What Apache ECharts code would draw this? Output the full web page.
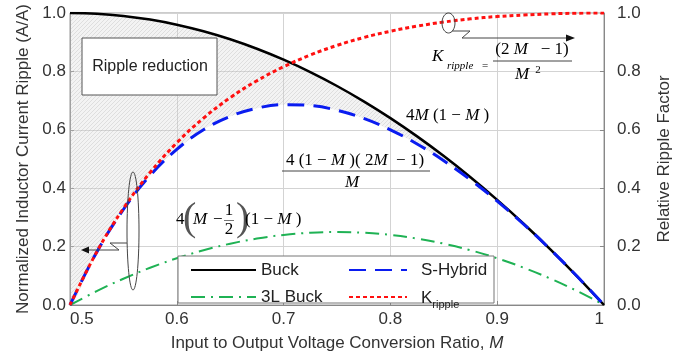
<!DOCTYPE html>
<html>
<head>
<meta charset="utf-8">
<script src="https://cdn.jsdelivr.net/npm/echarts@6/dist/echarts.min.js"></script>
<style>
  html, body { margin: 0; padding: 0; background: #fff; }
  #chart { width: 696px; height: 358px; }
</style>
</head>
<body>
<div id="chart"></div>
<script>
// Conversion ratio M (x axis samples)
const ratioM = [0.5, 0.525, 0.55, 0.575, 0.6, 0.625, 0.65, 0.675, 0.7, 0.725, 0.75,
                0.775, 0.8, 0.825, 0.85, 0.875, 0.9, 0.925, 0.95, 0.975, 1.0];
// Normalized inductor current ripple, conventional buck
const buck = [1.000, 0.9975, 0.990, 0.9775, 0.960, 0.9375, 0.910, 0.8775, 0.840, 0.7975, 0.750,
              0.6975, 0.640, 0.5775, 0.510, 0.4375, 0.360, 0.2775, 0.190, 0.0975, 0.000];
// Series-hybrid converter ripple
const sHybrid = [0.000, 0.181, 0.327, 0.4435, 0.533, 0.600, 0.646, 0.674, 0.686, 0.683, 0.667,
                 0.639, 0.600, 0.5515, 0.494, 0.4286, 0.3556, 0.2757, 0.1895, 0.0974, 0.000];
// Three-level buck ripple
const threeLevel = [0.000, 0.0475, 0.090, 0.1275, 0.160, 0.1875, 0.210, 0.2275, 0.240, 0.2475, 0.250,
                    0.2475, 0.240, 0.2275, 0.210, 0.1875, 0.160, 0.1275, 0.090, 0.0475, 0.000];
// Relative ripple factor K_ripple (right axis)
const kRipple = [0.000, 0.1814, 0.3306, 0.4537, 0.5556, 0.640, 0.710, 0.768, 0.816, 0.856, 0.889,
                 0.916, 0.9375, 0.955, 0.969, 0.980, 0.988, 0.993, 0.997, 0.9993, 1.000];
// Axis tick settings
const xTicks = { min: 0.5, max: 1.0, step: 0.1 };
const yTicks = { min: 0.0, max: 1.0, step: 0.2 };

const pair = (ys) => ratioM.map((m, i) => [m, ys[i]]);

// Diagonal hatch used for the ripple-reduction band
function hatchCanvas() {
  const s = 4;
  const c = document.createElement('canvas');
  c.width = s; c.height = s;
  const g = c.getContext('2d');
  g.fillStyle = 'rgba(215,215,215,0.3)';
  g.fillRect(0, 0, s, s);
  g.strokeStyle = 'rgba(165,165,165,0.45)';
  g.lineWidth = 0.6;
  g.beginPath();
  g.moveTo(0, s); g.lineTo(s, 0);
  g.moveTo(-1, 1); g.lineTo(1, -1);
  g.moveTo(s - 1, s + 1); g.lineTo(s + 1, s - 1);
  g.stroke();
  return c;
}
const hatchImg = hatchCanvas();

const FONT = '"Liberation Sans", Arial, sans-serif';
const SERIF = '"Liberation Serif", "Times New Roman", serif';
const TXT = '#333';
const ink = '#444';

const chart = echarts.init(document.getElementById('chart'), null, { renderer: 'canvas' });

const tickLabel = { fontSize: 17, color: TXT, fontFamily: FONT };

const mathRich = {
  u: { fontFamily: SERIF, fontSize: 17, color: TXT },
  i: { fontFamily: SERIF, fontSize: 17, color: TXT, fontStyle: 'italic' },
  sub: { fontFamily: SERIF, fontSize: 11, color: '#666', fontStyle: 'italic' },
  eq: { fontFamily: SERIF, fontSize: 11, color: '#666' },
  sup: { fontFamily: SERIF, fontSize: 11, color: TXT }
};

function mathText(text, x, y, align, z) {
  return {
    type: 'text', z: z || 6,
    style: { text: text, x: x, y: y, align: align || 'left', verticalAlign: 'middle', rich: mathRich }
  };
}
function seg(points, z) {
  return { type: 'polyline', z: z || 6, shape: { points: points },
           style: { stroke: ink, fill: null, lineWidth: 1 } };
}
function arrowHead(points) {
  return { type: 'polygon', z: 6, shape: { points: points }, style: { fill: '#111', stroke: null } };
}

// Band between Buck (upper edge) and S-Hybrid (lower edge), drawn through the axes' scales
function renderBand(params, api) {
  const upper = ratioM.map((m, i) => api.coord([m, buck[i]]));
  const lower = ratioM.map((m, i) => api.coord([m, sHybrid[i]])).reverse();
  return {
    type: 'polygon',
    shape: { points: upper.concat(lower), smooth: 0.25 },
    style: { fill: { image: hatchImg, repeat: 'repeat' }, stroke: null },
    silent: true
  };
}

const option = {
  animation: false,
  backgroundColor: '#fff',
  grid: { left: 70, right: 92, top: 13, bottom: 53, show: true, borderColor: '#999', borderWidth: 1 },
  xAxis: {
    type: 'value', min: xTicks.min, max: xTicks.max, interval: xTicks.step,
    axisLine: { lineStyle: { color: '#888' } },
    axisTick: { inside: true, length: 4, lineStyle: { color: '#888' } },
    axisLabel: Object.assign({ margin: 6, alignMinLabel: 'left', alignMaxLabel: 'right',
                               formatter: (v) => (v === 1 ? '1' : v.toFixed(1)) }, tickLabel),
    splitLine: { show: true, lineStyle: { color: '#d3d3d3', width: 1 } },
    name: '{n|Input to Output Voltage Conversion Ratio, }{i|M}',
    nameLocation: 'middle', nameGap: 30,
    nameTextStyle: { rich: {
      n: { fontSize: 17, color: TXT, fontFamily: FONT },
      i: { fontSize: 17, color: TXT, fontFamily: FONT, fontStyle: 'italic' }
    } }
  },
  yAxis: [
    {
      type: 'value', min: yTicks.min, max: yTicks.max, interval: yTicks.step,
      axisLine: { show: true, lineStyle: { color: '#888' } },
      axisTick: { show: true, inside: true, length: 4, lineStyle: { color: '#888' } },
      axisLabel: Object.assign({ margin: 4, formatter: (v) => v.toFixed(1) }, tickLabel),
      splitLine: { show: true, lineStyle: { color: '#d3d3d3', width: 1 } },
      name: 'Normalized Inductor Current Ripple (A/A)',
      nameLocation: 'middle', nameGap: 38,
      nameTextStyle: { fontSize: 17, color: TXT, fontFamily: FONT }
    },
    {
      type: 'value', position: 'right', min: yTicks.min, max: yTicks.max, interval: yTicks.step,
      axisLine: { show: true, lineStyle: { color: '#888' } },
      axisTick: { show: true, inside: true, length: 4, lineStyle: { color: '#888' } },
      axisLabel: Object.assign({ margin: 13, formatter: (v) => v.toFixed(1) }, tickLabel),
      splitLine: { show: false },
      name: 'Relative Ripple Factor',
      nameLocation: 'middle', nameGap: 52,
      nameTextStyle: { fontSize: 17, color: TXT, fontFamily: FONT }
    }
  ],
  legend: [
    {
      data: ['Buck', '3L Buck'], orient: 'vertical', left: 185, top: 255,
      itemWidth: 65, itemHeight: 14, itemGap: 7, selectedMode: false, z: 8,
      itemStyle: { opacity: 0 },
      textStyle: { fontSize: 17, color: '#222', fontFamily: FONT, lineHeight: 20 }
    },
    {
      data: ['S-Hybrid', 'Kripple'], orient: 'vertical', left: 343, top: 255,
      itemWidth: 58, itemHeight: 14, itemGap: 7, selectedMode: false, z: 8,
      itemStyle: { opacity: 0 },
      formatter: (name) => (name === 'Kripple' ? '{a|K}{s|ripple}' : name),
      textStyle: {
        fontSize: 17, color: '#222', fontFamily: FONT, lineHeight: 20, padding: [0, 0, 0, 9],
        rich: {
          a: { fontSize: 17, color: '#222', fontFamily: FONT, lineHeight: 20, verticalAlign: 'bottom' },
          s: { fontSize: 11, color: '#222', fontFamily: FONT, lineHeight: 12, verticalAlign: 'bottom',
               padding: [0, 0, -3, 0] }
        }
      }
    }
  ],
  series: [
    {
      name: 'reduction', type: 'custom', renderItem: renderBand, data: [[0.5, 0]],
      silent: true, z: 1, clip: true
    },
    {
      name: '3L Buck', type: 'line', data: pair(threeLevel), smooth: 0.4, symbol: 'none',
      color: '#1fb254', lineStyle: { color: '#1fb254', width: 2, type: [14, 6, 2, 6] }, z: 3
    },
    {
      name: 'Buck', type: 'line', data: pair(buck), smooth: 0.4, symbol: 'none',
      color: '#000', lineStyle: { color: '#000', width: 2.5 }, z: 3
    },
    {
      name: 'S-Hybrid', type: 'line', data: pair(sHybrid), smooth: 0.4, symbol: 'none',
      color: '#0a1cf0', lineStyle: { color: '#0a1cf0', width: 3, type: [17, 9] }, z: 4
    },
    {
      name: 'Kripple', type: 'line', yAxisIndex: 1, data: pair(kRipple), smooth: 0.4, symbol: 'none',
      color: '#ff1010', lineStyle: { color: '#ff1010', width: 3, type: [4, 3] }, z: 5
    }
  ],
  graphic: [
    // "Ripple reduction" label box
    { type: 'rect', z: 6, shape: { x: 82, y: 38, width: 135, height: 57 },
      style: { fill: '#fff', stroke: '#555', lineWidth: 1 } },
    { type: 'text', z: 7, style: { text: 'Ripple reduction', x: 150, y: 67, align: 'center',
      verticalAlign: 'middle', fontSize: 16, fontFamily: FONT, fill: '#222' } },
    // legend frame
    { type: 'rect', z: 6, shape: { x: 178, y: 256, width: 316, height: 47 },
      style: { fill: '#fff', stroke: '#777', lineWidth: 1 } },

    // callout: ellipse on the left branch, pointing to left axis
    { type: 'ellipse', z: 6, shape: { cx: 133, cy: 231, rx: 6, ry: 59 },
      style: { fill: null, stroke: ink, lineWidth: 1 } },
    seg([[127, 243], [110, 243], [119, 250], [87, 250]]),
    arrowHead([[81, 250], [89, 246.5], [89, 253.5]]),

    // callout: ellipse on K_ripple, pointing to right axis
    { type: 'ellipse', z: 6, shape: { cx: 448.5, cy: 23, rx: 6.5, ry: 10 },
      style: { fill: null, stroke: ink, lineWidth: 1 } },
    seg([[452, 31], [470, 31], [462, 38], [567, 38]]),
    arrowHead([[575, 38], [566, 34.5], [566, 41.5]]),

    // K_ripple = (2M - 1) / M^2
    mathText('{i|K}', 432, 57, 'left'),
    mathText('{sub|ripple}', 447, 66, 'left'),
    mathText('{eq|=}', 482, 66, 'left'),
    mathText('{u|(2}{i| M}{u|   \u2212 1)}', 532, 50, 'center'),
    seg([[493, 61], [572, 61]]),
    mathText('{i|M}', 522, 75, 'center'),
    mathText('{sup|2}', 538, 70, 'center'),

    // 4M(1 - M)
    mathText('{u|4}{i|M}{u| (1 \u2212 }{i|M}{u| )}', 406, 116, 'left'),

    // 4(1 - M)(2M - 1) / M
    mathText('{u|4 (1 \u2212 }{i|M}{u| )( 2}{i|M}{u|  \u2212 1)}', 355, 161, 'center'),
    seg([[282, 171], [430, 171]]),
    mathText('{i|M}', 352, 183, 'center'),

    // 4(M - 1/2)(1 - M)
    mathText('{u|4}', 176, 220, 'left'),
    { type: 'text', z: 6, style: { text: '(', x: 183, y: 219, align: 'left', verticalAlign: 'middle',
      fontFamily: SERIF, fontSize: 40, fontWeight: 'lighter', fill: '#555' } },
    mathText('{i|M}', 193, 220, 'left'),
    mathText('{u|\u2212}', 213, 220, 'left'),
    mathText('{u|1}', 229, 211, 'center'),
    { type: 'polyline', z: 6, shape: { points: [[224, 220.5], [234, 220.5]] },
      style: { stroke: '#555', lineWidth: 0.8 } },
    mathText('{u|2}', 229, 230, 'center'),
    { type: 'text', z: 6, style: { text: ')', x: 236, y: 219, align: 'left', verticalAlign: 'middle',
      fontFamily: SERIF, fontSize: 40, fontWeight: 'lighter', fill: '#555' } },
    mathText('{u|(1 \u2212 }{i|M}{u| )}', 245, 220, 'left')
  ]
};

chart.setOption(option);
</script>
</body>
</html>
